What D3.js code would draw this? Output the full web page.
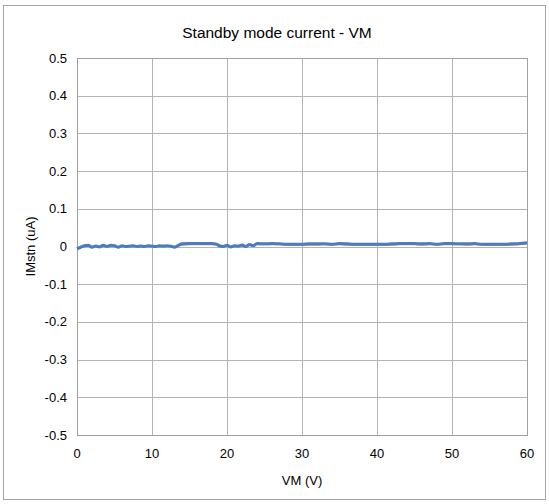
<!DOCTYPE html>
<html>
<head>
<meta charset="utf-8">
<script src="https://cdn.jsdelivr.net/npm/d3@7"></script>
<style>
  body { margin: 0; background: #fff; }
  text { font-family: "Liberation Sans", Arial, sans-serif; fill: #000; }
</style>
</head>
<body>
<svg id="chart" width="549" height="504"></svg>
<script>
// supply voltage (V)
const vm = [0, 0.5, 1, 1.5, 2, 2.5, 3, 3.5, 4, 4.5, 5, 5.5, 6, 6.5, 7, 7.5, 8, 8.5, 9, 9.5,
  10, 10.5, 11, 11.5, 12, 12.5, 13, 13.5, 14, 15, 16, 17, 18, 18.5, 19, 19.5, 20, 20.5, 21, 21.5,
  22, 22.5, 23, 23.5, 24, 25, 26, 27, 28, 29, 30, 31, 32, 33, 34, 35, 36, 37, 38, 39,
  40, 41, 42, 43, 44, 45, 46, 47, 48, 49, 50, 51, 52, 53, 54, 55, 56, 57, 58, 59, 60];
// standby current, two units (uA)
const imBlue = [-0.006, -0.002, 0.002, 0.003, -0.002, 0.001, -0.001, 0.003, 0.0, 0.003, 0.002, -0.002, 0.002, 0.0, 0.001, 0.002, 0.0, 0.001, 0.0, 0.002,
  0.001, 0.0, 0.002, 0.001, 0.002, 0.001, -0.002, 0.003, 0.007, 0.008, 0.008, 0.008, 0.008, 0.007, 0.002, 0.0, 0.003, -0.001, 0.002, 0.001,
  0.004, 0.0, 0.005, 0.002, 0.008, 0.007, 0.008, 0.007, 0.006, 0.006, 0.006, 0.007, 0.007, 0.007, 0.006, 0.008, 0.007, 0.006, 0.006, 0.006,
  0.006, 0.006, 0.007, 0.008, 0.008, 0.008, 0.007, 0.008, 0.006, 0.008, 0.008, 0.007, 0.007, 0.008, 0.006, 0.006, 0.006, 0.006, 0.007, 0.008, 0.010];
const imOrange = [-0.004, -0.002, 0.0, 0.001, 0.0, 0.0, 0.0, 0.001, 0.0, 0.001, 0.001, 0.0, 0.001, 0.0, 0.0, 0.001, 0.0, 0.0, 0.0, 0.001,
  0.0, 0.0, 0.001, 0.0, 0.001, 0.0, 0.0, 0.001, 0.004, 0.005, 0.005, 0.005, 0.005, 0.004, 0.001, 0.0, 0.001, 0.0, 0.001, 0.0,
  0.002, 0.0, 0.003, 0.001, 0.005, 0.005, 0.005, 0.005, 0.004, 0.004, 0.004, 0.004, 0.004, 0.005, 0.004, 0.005, 0.004, 0.004, 0.004, 0.004,
  0.004, 0.004, 0.004, 0.005, 0.005, 0.005, 0.004, 0.005, 0.004, 0.005, 0.005, 0.005, 0.004, 0.005, 0.004, 0.004, 0.004, 0.004, 0.004, 0.005, 0.007];
const xTicks = [0, 10, 20, 30, 40, 50, 60];
const yTicks = [-0.5, -0.4, -0.3, -0.2, -0.1, 0, 0.1, 0.2, 0.3, 0.4, 0.5];

const svg = d3.select("#chart");
const plotL = 77, plotR = 527, plotT = 58, plotB = 435;

// outer frame
svg.append("rect")
  .attr("x", 3.5).attr("y", 5.5)
  .attr("width", 542).attr("height", 494)
  .attr("fill", "#fff").attr("stroke", "#a6a6a6");

const x = d3.scaleLinear().domain([0, 60]).range([plotL, plotR]);
const y = d3.scaleLinear().domain([-0.5, 0.5]).range([plotB, plotT]);

// grid
svg.append("g").selectAll("line").data(xTicks).enter().append("line")
  .attr("x1", d => Math.round(x(d)) + 0.5).attr("x2", d => Math.round(x(d)) + 0.5)
  .attr("y1", plotT).attr("y2", plotB)
  .attr("stroke", "#b4b4b4");
svg.append("g").selectAll("line").data(yTicks).enter().append("line")
  .attr("x1", plotL).attr("x2", plotR)
  .attr("y1", d => Math.round(y(d)) + 0.5).attr("y2", d => Math.round(y(d)) + 0.5)
  .attr("stroke", "#b4b4b4");

svg.append("rect")
  .attr("x", plotL + 0.5).attr("y", plotT + 0.5)
  .attr("width", plotR - plotL).attr("height", plotB - plotT)
  .attr("fill", "none").attr("stroke", "#a0a0a0");

// tick labels
svg.append("g").selectAll("text").data(yTicks).enter().append("text")
  .attr("x", 67).attr("y", d => y(d) + 4.5)
  .attr("text-anchor", "end").attr("font-size", 13)
  .text(d => d === 0 ? "0" : d.toFixed(1));
svg.append("g").selectAll("text").data(xTicks).enter().append("text")
  .attr("x", d => x(d)).attr("y", 458)
  .attr("text-anchor", "middle").attr("font-size", 13)
  .text(d => d);

const line = (vals) => d3.line()
  .x((d, i) => x(vm[i]))
  .y(d => y(d))
  .curve(d3.curveMonotoneX)(vals);

svg.append("path").attr("d", line(imOrange))
  .attr("fill", "none").attr("stroke", "#e07b6a").attr("stroke-width", 1.5);
svg.append("path").attr("d", line(imBlue))
  .attr("fill", "none").attr("stroke", "#4a7cc4").attr("stroke-width", 3)
  .attr("stroke-linejoin", "round");

// titles
svg.append("text").attr("x", 277).attr("y", 38)
  .attr("text-anchor", "middle").attr("font-size", 15.5)
  .text("Standby mode current - VM");
svg.append("text").attr("x", 302).attr("y", 485)
  .attr("text-anchor", "middle").attr("font-size", 13)
  .text("VM (V)");
svg.append("text")
  .attr("transform", "translate(35," + y(0) + ") rotate(-90)")
  .attr("text-anchor", "middle").attr("font-size", 13)
  .text("IMstn (uA)");
</script>
</body>
</html>
